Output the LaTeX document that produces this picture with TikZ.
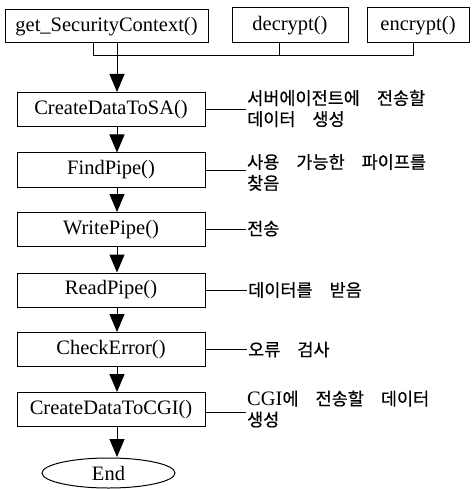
\documentclass[tikz,border=0pt]{standalone}
\usepackage{fontspec}
\setmainfont{Liberation Serif}
\newfontfamily\kor[FakeBold=0.5]{Noto Sans CJK KR}
\usetikzlibrary{arrows.meta,shapes.geometric}
\newcommand\ks{\hspace{17pt}}
\begin{document}
\begin{tikzpicture}[x=1pt,y=-1pt,
  box/.style={draw, line width=1pt, minimum height=34pt, inner sep=0pt,
    font=\fontsize{20.5}{24}\selectfont},
  mainbox/.style={box, minimum width=188pt},
  lbl/.style={anchor=west, inner sep=1pt, align=left,
    font=\kor\fontsize{17.5}{21}\selectfont},
  conn/.style={line width=1pt},
  arr/.style={line width=1pt, -{Triangle[length=18pt,width=15pt]}}]
\useasboundingbox (0,0) rectangle (474,489);
% top boxes
\node[box, minimum width=203pt, minimum height=33pt] (get) at (106.5,26.5) {get\_SecurityContext()};
\node[box, minimum width=116pt, minimum height=35pt] (dec) at (290,25.5) {decrypt()};
\node[box, minimum width=102pt, minimum height=35pt] (enc) at (418,25.5) {encrypt()};
% main boxes
\node[mainbox] (sa) at (111,109.5) {CreateDataToSA()};
\node[mainbox] (fp) at (111,170) {FindPipe()};
\node[mainbox] (wp) at (111,229.5) {WritePipe()};
\node[mainbox] (rp) at (111,290) {ReadPipe()};
\node[mainbox] (ce) at (111,349.5) {CheckError()};
\node[mainbox] (cgi) at (111,409.5) {CreateDataToCGI()};
\node[draw, ellipse, line width=1pt, minimum width=133pt, minimum height=30pt, inner sep=0pt,
  font=\fontsize{20.5}{24}\selectfont] (end) at (108.5,473) {End};
% bus
\coordinate (busL) at (93,56);
\coordinate (busR) at (413,56);
\coordinate (busD) at (279,56);
\draw[conn] ([xshift=-13.5pt]get.south) -- (busL) -- (busR) -- ([xshift=-5pt]enc.south);
\draw[conn] ([xshift=-11pt]dec.south) -- (busD);
% main arrows
\draw[arr] ([xshift=10.5pt]get.south) -- ([xshift=6pt]sa.north);
\draw[arr] ([xshift=6pt]sa.south) -- ([xshift=6pt]fp.north);
\draw[arr] ([xshift=6pt]fp.south) -- ([xshift=6pt]wp.north);
\draw[arr] ([xshift=6pt]wp.south) -- ([xshift=6pt]rp.north);
\draw[arr] ([xshift=6pt]rp.south) -- ([xshift=6pt]ce.north);
\draw[arr] ([xshift=6pt]ce.south) -- ([xshift=6pt]cgi.north);
\draw[arr] ([xshift=6pt]cgi.south) -- ([xshift=8.5pt,yshift=0.5pt]end.north);
% labels
\node[lbl] (l1) at (246,108.5) {서버에이전트에\ks 전송할\\데이터\ks 생성};
\node[lbl] (l2) at (246,172.5) {사용\ks 가능한\ks 파이프를\\찾음};
\node[lbl] (l3) at (246,228.5) {전송};
\node[lbl] (l4) at (247,290) {데이터를\ks 받음};
\node[lbl] (l5) at (247,349.5) {오류\ks 검사};
\node[lbl] (l6) at (246,409) {{\rmfamily\fontsize{20.5}{21}\selectfont CGI}에\ks 전송할\ks 데이터\\생성};
\draw[conn] (sa.east) -- (sa.east -| l1.west);
\draw[conn] (fp.east) -- (fp.east -| l2.west);
\draw[conn] (wp.east) -- (wp.east -| l3.west);
\draw[conn] (rp.east) -- (rp.east -| l4.west);
\draw[conn] (ce.east) -- (ce.east -| l5.west);
\draw[conn] ([yshift=-3pt]cgi.east) -- ([yshift=-3pt]cgi.east -| l6.west);
\end{tikzpicture}
\end{document}
